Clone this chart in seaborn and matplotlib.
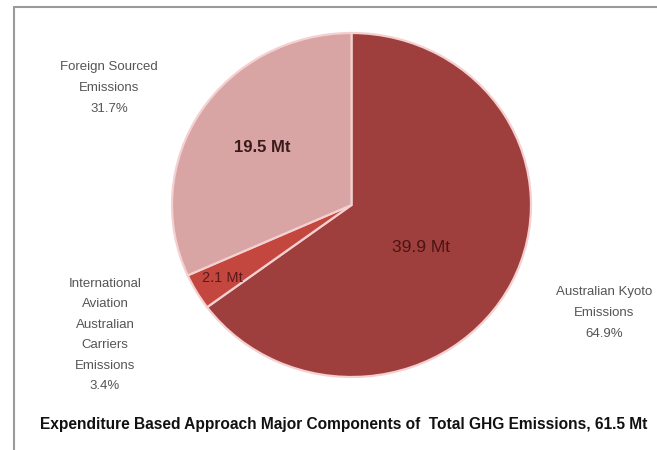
import numpy as np
import seaborn as sns
import matplotlib
matplotlib.use("Agg")
import matplotlib.pyplot as plt
from matplotlib.lines import Line2D
from matplotlib import font_manager

# data
components = ["Australian Kyoto\nEmissions",
              "International\nAviation\nAustralian\nCarriers\nEmissions",
              "Foreign Sourced\nEmissions"]
emissions_mt = [39.9, 2.1, 19.5]
slice_colors = ["#9f3f3d", "#c4473f", "#d9a4a4"]
title = "Expenditure Based Approach Major Components of  Total GHG Emissions, {:.1f} Mt"

sns.set_theme(style="white")
plt.rcParams["font.family"] = ["Liberation Sans", "DejaVu Sans"]

# the original uses a condensed face; take the narrow Liberation cut if present
installed = {f.name for f in font_manager.fontManager.ttflist}
narrow = "Liberation Sans Narrow" if "Liberation Sans Narrow" in installed else "Liberation Sans"
label_size = 10.5 if narrow != "Liberation Sans" else 9.5

total = sum(emissions_mt)
shares = [v / total * 100 for v in emissions_mt]

fig = plt.figure(figsize=(6.57, 4.5), dpi=100)
fig.patch.set_facecolor("white")

# pie fills this box exactly (slightly wider than tall, like the original)
ax = fig.add_axes([172 / 657, 1 - 377 / 450, 359 / 657, 344 / 450])
wedges, _ = ax.pie(emissions_mt, colors=slice_colors, startangle=90,
                   counterclock=False, radius=1,
                   wedgeprops=dict(edgecolor="#f4d0d0", linewidth=1.6))
ax.set_aspect("auto")
ax.set_xlim(-1, 1)
ax.set_ylim(-1, 1)
ax.axis("off")

# outside category labels with percentages
label_pos = [(604 / 657, 1 - 313 / 450), (105 / 657, 1 - 335 / 450), (109 / 657, 1 - 88 / 450)]
for name, pct, (x, y) in zip(components, shares, label_pos):
    fig.text(x, y, f"{name}\n{pct:.1f}%", ha="center", va="center",
             fontsize=label_size, color="#555555", linespacing=1.95,
             family=[narrow, "DejaVu Sans"])

# value labels inside the slices
value_pos = [(421 / 657, 1 - 248 / 450), (222 / 657, 1 - 278 / 450), (262 / 657, 1 - 147 / 450)]
value_style = [dict(fontsize=12.5, color="#4a1414"),
               dict(fontsize=10.5, color="#5a1a1a"),
               dict(fontsize=12, color="#3a1a1a", fontweight="bold")]
for v, (x, y), st in zip(emissions_mt, value_pos, value_style):
    fig.text(x, y, f"{v:.1f} Mt", ha="center", va="center",
             family=[narrow, "DejaVu Sans"], **st)

fig.text(344 / 657, 1 - 424 / 450, title.format(total), ha="center", va="center",
         fontsize=11.2, fontweight="bold", color="#111111")

# grey frame (top and left edges visible in the crop)
y_top = 1 - 7 / 450
x_left = 14 / 657
fig.add_artist(Line2D([x_left, 1], [y_top, y_top], color="#9a9a9a", lw=1.5))
fig.add_artist(Line2D([x_left, x_left], [0, y_top], color="#9a9a9a", lw=1.5))

fig.savefig("out.png", dpi=100, facecolor="white")
